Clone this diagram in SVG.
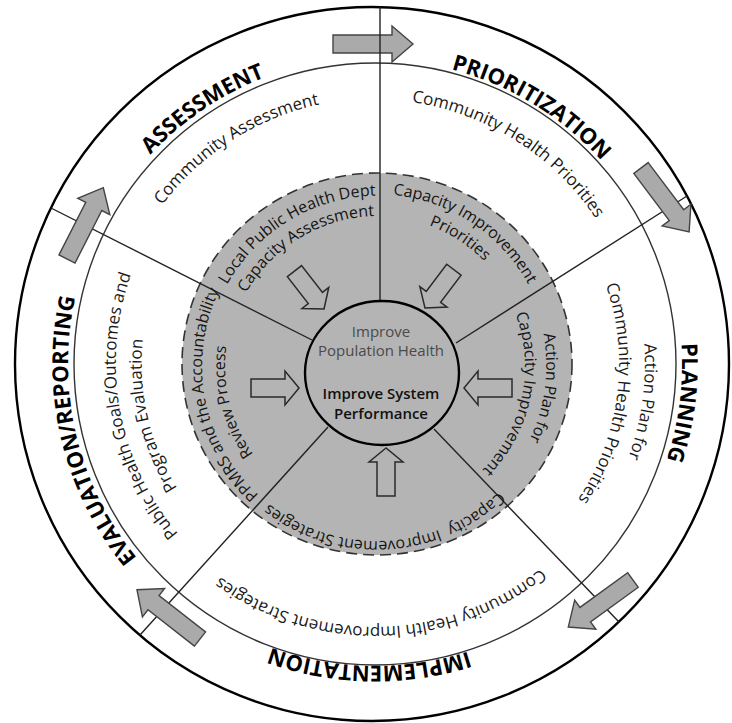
<svg xmlns="http://www.w3.org/2000/svg" xmlns:xlink="http://www.w3.org/1999/xlink" width="732" height="723" viewBox="0 0 732 723">
<style>
text { font-family: "Open Sans", "DejaVu Sans", sans-serif; text-anchor: middle; }
.lbl { font-weight: 700; font-size: 22px; fill: #000; }
.band { font-size: 17px; fill: #1a1a1a; }
.gr { font-size: 16px; fill: #151515; }
.spoke { stroke: #222; stroke-width: 1.4; fill: none; }
.big { fill: #aaaaaa; stroke: #444; stroke-width: 1.4; stroke-linejoin: miter; }
.hollow { fill: none; stroke: #2a2a2a; stroke-width: 1.5; stroke-linejoin: miter; }
</style>
<defs>
<polygon id="bigArrow" points="0,-9 59,-9 59,-18 80,0 59,18 59,9 0,9"/>
<polygon id="hollowArrow" points="0,0 -14,-17 -14,-9 -48,-9 -48,9 -14,9 -14,17"/>
<!-- outer labels -->
<path id="pA" d="M120.5,535.7 A307,307 0 0 1 629.5,192.3"/>
<path id="pP" d="M112.7,204.5 A307,307 0 0 1 637.3,523.5"/>
<path id="pL" d="M413.5,59.4 A307,307 0 0 1 336.5,668.6"/>
<path id="pI" d="M681.9,369.9 A307,307 0 0 1 68.1,358.1"/>
<path id="pE" d="M445.6,662.8 A307,307 0 0 1 304.4,65.2"/>
<!-- inner band -->
<path id="b1" d="M149.5,508.8 A268,268 0 0 1 600.5,219.2"/>
<path id="b2" d="M148.5,220.8 A268,268 0 0 1 601.5,507.2"/>
<path id="b3a" d="M412.6,96.6 A270,270 0 0 1 337.4,631.4"/>
<path id="b3b" d="M406.4,122.0 A244,244 0 0 1 343.6,606.0"/>
<path id="b4" d="M639.9,357.1 A265,265 0 0 1 110.1,370.9"/>
<path id="b5a" d="M422.2,623.7 A264,264 0 0 1 327.8,104.3"/>
<path id="b5b" d="M428.3,594.9 A237,237 0 0 1 321.7,133.1"/>
<!-- gray disc -->
<path id="g1a" d="M227.9,455.6 A174,174 0 0 1 526.1,276.4"/>
<path id="g1b" d="M245.9,444.8 A153,153 0 0 1 508.1,287.2"/>
<path id="g2a" d="M231.9,270.0 A174,174 0 0 1 522.1,462.0"/>
<path id="g2b" d="M248.7,282.7 A153,153 0 0 1 505.3,449.3"/>
<path id="g3a" d="M399.5,195.5 A172,172 0 0 1 354.5,536.5"/>
<path id="g3b" d="M407.8,221.2 A148,148 0 0 1 346.2,510.8"/>
<path id="g4" d="M551.8,356.8 A175,175 0 0 1 202.2,375.2"/>
<path id="g5a" d="M410.4,537.8 A175,175 0 0 1 343.6,194.2"/>
<path id="g5b" d="M413.8,513.5 A152,152 0 0 1 340.2,218.5"/>
</defs>

<g id="rings">
<circle cx="372" cy="364" r="357" fill="#fff" stroke="#000" stroke-width="2.4"/>
<circle cx="375" cy="364" r="301" fill="none" stroke="#333" stroke-width="1.4"/>
<ellipse cx="377" cy="364" rx="195" ry="191" fill="#b4b4b4" stroke="#333" stroke-width="1.6" stroke-dasharray="11 6"/>
</g>

<g id="connectors">
<use xlink:href="#bigArrow" class="big" transform="translate(333,44)"/>
<line class="spoke" x1="380" y1="302" x2="380" y2="7"/>
<line class="spoke" x1="456" y1="343" x2="687" y2="196"/>
<line class="spoke" x1="434" y1="429" x2="619" y2="622"/>
<line class="spoke" x1="328" y1="427" x2="140" y2="635"/>
<line class="spoke" x1="312" y1="340" x2="51" y2="208"/>
<use xlink:href="#bigArrow" class="big" transform="translate(641,168) rotate(53)"/>
<use xlink:href="#bigArrow" class="big" transform="translate(633,580) rotate(144)"/>
<use xlink:href="#bigArrow" class="big" transform="translate(200,639) rotate(218)"/>
<use xlink:href="#bigArrow" class="big" transform="translate(67,259) rotate(-63)"/>
<use xlink:href="#hollowArrow" class="hollow" transform="translate(324,309) rotate(52)"/>
<use xlink:href="#hollowArrow" class="hollow" transform="translate(425,308) rotate(127)"/>
<use xlink:href="#hollowArrow" class="hollow" transform="translate(464,388) rotate(180)"/>
<use xlink:href="#hollowArrow" class="hollow" transform="translate(299,388)"/>
<use xlink:href="#hollowArrow" class="hollow" transform="translate(386,448) rotate(-90)"/>
</g>

<g id="assessment">
<text class="lbl"><textPath xlink:href="#pA" startOffset="50%">ASSESSMENT</textPath></text>
<text class="band"><textPath xlink:href="#b1" startOffset="50%">Community Assessment</textPath></text>
<text class="gr"><textPath xlink:href="#g1a" startOffset="50%">Local Public Health Dept</textPath></text>
<text class="gr"><textPath xlink:href="#g1b" startOffset="50%">Capacity Assessment</textPath></text>
</g>

<g id="prioritization">
<text class="lbl"><textPath xlink:href="#pP" startOffset="50%">PRIORITIZATION</textPath></text>
<text class="band"><textPath xlink:href="#b2" startOffset="50%">Community Health Priorities</textPath></text>
<text class="gr"><textPath xlink:href="#g2a" startOffset="50%">Capacity Improvement</textPath></text>
<text class="gr"><textPath xlink:href="#g2b" startOffset="50%">Priorities</textPath></text>
</g>

<g id="planning">
<text class="lbl"><textPath xlink:href="#pL" startOffset="50%">PLANNING</textPath></text>
<text class="band"><textPath xlink:href="#b3a" startOffset="50%">Action Plan for</textPath></text>
<text class="band"><textPath xlink:href="#b3b" startOffset="50%">Community Health Priorities</textPath></text>
<text class="gr"><textPath xlink:href="#g3a" startOffset="50%">Action Plan for</textPath></text>
<text class="gr"><textPath xlink:href="#g3b" startOffset="50%">Capacity Improvement</textPath></text>
</g>

<g id="implementation">
<text class="lbl"><textPath xlink:href="#pI" startOffset="50%">IMPLEMENTATION</textPath></text>
<text class="band"><textPath xlink:href="#b4" startOffset="50%">Community Health Improvement Strategies</textPath></text>
<text class="gr" xml:space="preserve"><textPath xlink:href="#g4" startOffset="50%">Capacity  Improvement Strategies</textPath></text>
</g>

<g id="evaluation">
<text class="lbl"><textPath xlink:href="#pE" startOffset="50%">EVALUATION/REPORTING</textPath></text>
<text class="band"><textPath xlink:href="#b5a" startOffset="50%">Public Health Goals/Outcomes and</textPath></text>
<text class="band"><textPath xlink:href="#b5b" startOffset="50%">Program Evaluation</textPath></text>
<text class="gr"><textPath xlink:href="#g5a" startOffset="50%">PPMRS and the Accountability</textPath></text>
<text class="gr"><textPath xlink:href="#g5b" startOffset="50%">Review Process</textPath></text>
</g>

<g id="core">
<ellipse cx="382" cy="373" rx="77" ry="72" fill="#b4b4b4" stroke="#000" stroke-width="2.4"/>
<text x="381" y="337" font-size="15" fill="#4a4a4a">Improve</text>
<text x="381" y="356" font-size="15" fill="#4a4a4a">Population Health</text>
<text x="381" y="399" font-size="15" font-weight="600" fill="#111">Improve System</text>
<text x="381" y="419" font-size="15" font-weight="600" fill="#111">Performance</text>
</g>
</svg>
